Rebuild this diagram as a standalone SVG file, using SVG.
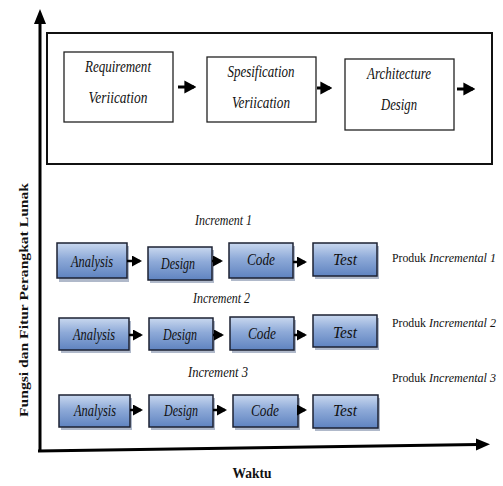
<svg xmlns="http://www.w3.org/2000/svg" width="503" height="486" viewBox="0 0 503 486">
<style>
text{font-family:'Liberation Serif','Times New Roman',serif;fill:#111;}
.it{font-style:italic;}
.bd{font-weight:bold;}
.wbox{fill:#fff;stroke:#222;stroke-width:1.3;}
.bbox{fill:url(#g);stroke:#1c2233;stroke-width:1.5;}
.sh{fill:#6f7f9f;opacity:0.55;}
.ax{stroke:#000;stroke-width:3;fill:none;}
.ar{stroke:#000;stroke-width:3;fill:none;}
.ar2{stroke:#000;stroke-width:2.5;fill:none;}
</style>
<defs>
<linearGradient id="g" x1="0" y1="0" x2="0" y2="1">
<stop offset="0" stop-color="#c9d8ef"/>
<stop offset="0.45" stop-color="#8eaad8"/>
<stop offset="1" stop-color="#5f83c0"/>
</linearGradient>
<marker id="ah" markerWidth="4" markerHeight="4.4" refX="3.2" refY="2.2" orient="auto" markerUnits="strokeWidth">
<path d="M0,0 L4,2.2 L0,4.4 Z" fill="#000"/>
</marker>
</defs>

<g id="axes">
<path class="ax" d="M40,452 L40,20"/>
<path d="M34,24 L40,9 L46,24 Z" fill="#000"/>
<path class="ax" d="M38,451 L478,444.5"/>
<path d="M476,438.5 L490,444.3 L476,450.5 Z" fill="#000"/>
</g>
<text class="bd" font-size="13" transform="translate(28,300) rotate(-90)" text-anchor="middle" textLength="234" lengthAdjust="spacingAndGlyphs">Fungsi dan Fitur Perangkat Lunak</text>
<text class="bd" font-size="15" x="252" y="478" text-anchor="middle" textLength="39" lengthAdjust="spacingAndGlyphs">Waktu</text>

<g id="top-frame"><rect x="47" y="33" width="445" height="131" fill="none" stroke="#111" stroke-width="2"/></g>

<g id="req">
<rect class="wbox" x="64" y="52" width="109" height="70"/>
<text class="it" font-size="16.5" x="118" y="72" text-anchor="middle" textLength="66" lengthAdjust="spacingAndGlyphs">Requirement</text>
<text class="it" font-size="16.5" x="118" y="103" text-anchor="middle" textLength="59" lengthAdjust="spacingAndGlyphs">Veriication</text>
</g>
<g id="spec">
<rect class="wbox" x="207" y="57" width="109" height="65"/>
<text class="it" font-size="16.5" x="261" y="77" text-anchor="middle" textLength="67" lengthAdjust="spacingAndGlyphs">Spesification</text>
<text class="it" font-size="16.5" x="261" y="108" text-anchor="middle" textLength="58" lengthAdjust="spacingAndGlyphs">Veriication</text>
</g>
<g id="arch">
<rect class="wbox" x="345" y="59" width="109" height="71"/>
<text class="it" font-size="16.5" x="399" y="79" text-anchor="middle" textLength="64" lengthAdjust="spacingAndGlyphs">Architecture</text>
<text class="it" font-size="16.5" x="399" y="110" text-anchor="middle" textLength="36" lengthAdjust="spacingAndGlyphs">Design</text>
</g>

<g id="labels">
<text class="it" font-size="14" x="195" y="225" textLength="57" lengthAdjust="spacingAndGlyphs">Increment 1</text>
<text class="it" font-size="14" x="193" y="303" textLength="57" lengthAdjust="spacingAndGlyphs">Increment 2</text>
<text class="it" font-size="14" x="188" y="377" textLength="60" lengthAdjust="spacingAndGlyphs">Increment 3</text>
<text font-size="13" x="392" y="262"><tspan textLength="34" lengthAdjust="spacingAndGlyphs">Produk</tspan><tspan class="it" x="429" textLength="67" lengthAdjust="spacingAndGlyphs">Incremental 1</tspan></text>
<text font-size="13" x="392" y="327"><tspan textLength="34" lengthAdjust="spacingAndGlyphs">Produk</tspan><tspan class="it" x="429" textLength="67" lengthAdjust="spacingAndGlyphs">Incremental 2</tspan></text>
<text font-size="13" x="392" y="382"><tspan textLength="34" lengthAdjust="spacingAndGlyphs">Produk</tspan><tspan class="it" x="429" textLength="67" lengthAdjust="spacingAndGlyphs">Incremental 3</tspan></text>
</g>

<g id="r1-analysis"><rect class="sh" x="59" y="246" width="70" height="36"/><rect class="bbox" x="57" y="243" width="70" height="35"/><text class="it" font-size="17" x="92" y="267" text-anchor="middle" textLength="42" lengthAdjust="spacingAndGlyphs">Analysis</text></g>
<g id="r1-design"><rect class="sh" x="150" y="250" width="64" height="33"/><rect class="bbox" x="148" y="247" width="64" height="33"/><text class="it" font-size="17" x="178" y="269" text-anchor="middle" textLength="34" lengthAdjust="spacingAndGlyphs">Design</text></g>
<g id="r1-code"><rect class="sh" x="231" y="246" width="64" height="35"/><rect class="bbox" x="229" y="243" width="64" height="35"/><text class="it" font-size="17" x="261" y="265" text-anchor="middle" textLength="28" lengthAdjust="spacingAndGlyphs">Code</text></g>
<g id="r1-test"><rect class="sh" x="315" y="246" width="64" height="33"/><rect class="bbox" x="313" y="243" width="64" height="33"/><text class="it" font-size="17" x="345" y="265" text-anchor="middle" textLength="24" lengthAdjust="spacingAndGlyphs">Test</text></g>

<g id="r2-analysis"><rect class="sh" x="61" y="321" width="70" height="32"/><rect class="bbox" x="59" y="318" width="70" height="32"/><text class="it" font-size="17" x="94" y="340" text-anchor="middle" textLength="42" lengthAdjust="spacingAndGlyphs">Analysis</text></g>
<g id="r2-design"><rect class="sh" x="151" y="321" width="64" height="32"/><rect class="bbox" x="149" y="318" width="64" height="32"/><text class="it" font-size="17" x="180" y="340" text-anchor="middle" textLength="34" lengthAdjust="spacingAndGlyphs">Design</text></g>
<g id="r2-code"><rect class="sh" x="232" y="320" width="64" height="33"/><rect class="bbox" x="230" y="317" width="64" height="33"/><text class="it" font-size="17" x="262" y="339" text-anchor="middle" textLength="28" lengthAdjust="spacingAndGlyphs">Code</text></g>
<g id="r2-test"><rect class="sh" x="315" y="318" width="64" height="32"/><rect class="bbox" x="313" y="315" width="64" height="32"/><text class="it" font-size="17" x="345" y="338" text-anchor="middle" textLength="24" lengthAdjust="spacingAndGlyphs">Test</text></g>

<g id="r3-analysis"><rect class="sh" x="61" y="398" width="71" height="32"/><rect class="bbox" x="59" y="395" width="71" height="32"/><text class="it" font-size="17" x="95" y="416" text-anchor="middle" textLength="42" lengthAdjust="spacingAndGlyphs">Analysis</text></g>
<g id="r3-design"><rect class="sh" x="151" y="398" width="64" height="32"/><rect class="bbox" x="149" y="395" width="64" height="32"/><text class="it" font-size="17" x="181" y="416" text-anchor="middle" textLength="34" lengthAdjust="spacingAndGlyphs">Design</text></g>
<g id="r3-code"><rect class="sh" x="235" y="398" width="65" height="32"/><rect class="bbox" x="233" y="395" width="65" height="32"/><text class="it" font-size="17" x="265" y="416" text-anchor="middle" textLength="28" lengthAdjust="spacingAndGlyphs">Code</text></g>
<g id="r3-test"><rect class="sh" x="315" y="398" width="65" height="33"/><rect class="bbox" x="313" y="395" width="65" height="33"/><text class="it" font-size="17" x="345" y="416" text-anchor="middle" textLength="24" lengthAdjust="spacingAndGlyphs">Test</text></g>

<g id="connectors">
<path class="ar" d="M178,87 L194,87" marker-end="url(#ah)"/>
<path class="ar" d="M317,88 L330,88" marker-end="url(#ah)"/>
<path class="ar" d="M457,89 L473,89" marker-end="url(#ah)"/>
<path class="ar2" d="M127,261 L140,261" marker-end="url(#ah)"/>
<path class="ar2" d="M212,261 L221,261" marker-end="url(#ah)"/>
<path class="ar2" d="M293,262 L305,262" marker-end="url(#ah)"/>
<path class="ar2" d="M129,335 L141,335" marker-end="url(#ah)"/>
<path class="ar2" d="M213,335 L222,335" marker-end="url(#ah)"/>
<path class="ar2" d="M294,335 L305,335" marker-end="url(#ah)"/>
<path class="ar2" d="M130,410 L141,410" marker-end="url(#ah)"/>
<path class="ar2" d="M213,410 L225,410" marker-end="url(#ah)"/>
<path class="ar2" d="M298,410 L305,410" marker-end="url(#ah)"/>
</g>
</svg>
